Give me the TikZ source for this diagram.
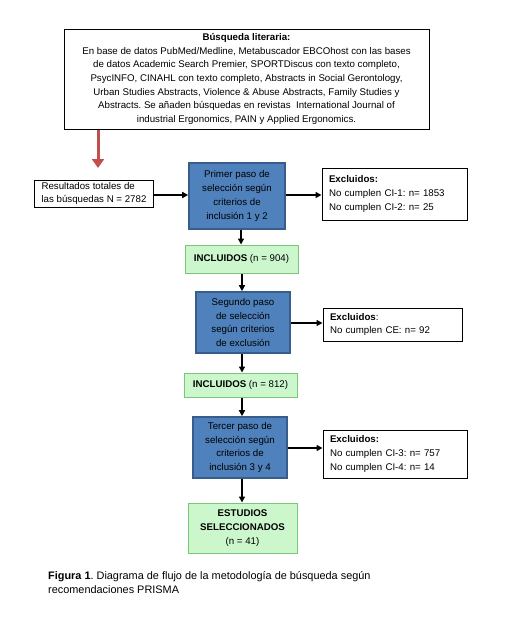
\documentclass[tikz,border=0pt]{standalone}
\usepackage{fontspec}
\setmainfont{Liberation Sans}
\frenchspacing
\usetikzlibrary{arrows.meta,positioning}
\definecolor{stepblue}{HTML}{4F81BD}
\definecolor{stepborder}{HTML}{385D8A}
\definecolor{inclfill}{HTML}{CCF7CC}
\definecolor{inclborder}{HTML}{79C879}
\definecolor{redarrow}{HTML}{C0504D}
\begin{document}
\begin{tikzpicture}[x=1pt,y=-1pt,
  every node/.style={font=\fontsize{9.7}{13.7}\selectfont, inner sep=2pt},
  plainbox/.style={draw=black, line width=1pt, fill=white},
  stepbox/.style={draw=stepborder, line width=1.6pt, fill=stepblue, align=center, text=black},
  inclbox/.style={draw=inclborder, line width=1pt, fill=inclfill, align=center},
  exbox/.style={plainbox, align=left, text width=#1, inner xsep=7pt},
  conn/.style={line width=1.4pt, -{Triangle[length=6pt,width=6pt]}},
]
\useasboundingbox (0,0) rectangle (524,619);
\fill[white] (0,0) rectangle (524,619);

\node[plainbox, minimum width=365pt, minimum height=100pt, align=center] (lit) at (246.5,79)
 {\textbf{Búsqueda literaria:}\\
 En base de datos PubMed/Medline, Metabuscador EBCOhost con las bases\\
 de datos Academic Search Premier, SPORTDiscus con texto completo,\\
 PsycINFO, CINAHL con texto completo, Abstracts in Social Gerontology,\\
 Urban Studies Abstracts, Violence \& Abuse Abstracts, Family Studies y\\
 Abstracts. Se añaden búsquedas en revistas\ \ International Journal of\\
 industrial Ergonomics, PAIN y Applied Ergonomics.};

\coordinate (redtop) at (98,129.5);
\coordinate (redtip) at (98,168);
\draw[redarrow, line width=3pt, -{Triangle[length=9pt,width=12pt]}] (redtop) -- (redtip);

\node[plainbox, minimum width=118pt, minimum height=27pt, align=left, inner xsep=7pt] (res) at (94,193.5)
 {Resultados totales de\\las búsquedas N = 2782};

\node[stepbox, minimum width=96pt, minimum height=66pt] (p1) at (237,196)
 {Primer paso de\\selección según\\criterios de\\inclusión 1 y 2};

\node[exbox=131pt, minimum height=52pt] (ex1) at (394.5,194)
 {\textbf{Excluidos:}\\No cumplen CI-1: n= 1853\\No cumplen CI-2: n= 25};

\node[inclbox, minimum width=113pt, minimum height=28pt] (in1) at (241.5,259)
 {\textbf{INCLUIDOS} (n = 904)};

\node[stepbox, minimum width=94pt, minimum height=61pt] (p2) at (243,322.5)
 {Segundo paso\\de selección\\según criterios\\de exclusión};

\node[exbox=125pt, minimum height=33pt] (ex2) at (392.5,324.5)
 {\textbf{Excluidos}:\\No cumplen CE: n= 92};

\node[inclbox, minimum width=113pt, minimum height=24pt] (in2) at (240.5,385)
 {\textbf{INCLUIDOS} (n = 812)};

\node[stepbox, minimum width=94pt, minimum height=61pt] (p3) at (240,447.5)
 {Tercer paso de\\selección según\\criterios de\\inclusión 3 y 4};

\node[exbox=130pt, minimum height=48pt] (ex3) at (395,454)
 {\textbf{Excluidos:}\\No cumplen CI-3: n= 757\\No cumplen CI-4: n= 14};

\node[inclbox, minimum width=109pt, minimum height=50pt] (sel) at (242.5,528)
 {\textbf{ESTUDIOS}\\\textbf{SELECCIONADOS}\\(n = 41)};

\draw[conn] (res.east |- 0,195) -- (p1.west |- 0,195);
\draw[conn] (p1.east |- 0,195) -- (ex1.west |- 0,195);
\draw[conn] (p1.south -| 241,0) -- (in1.north -| 241,0);
\draw[conn] (in1.south -| 242,0) -- (p2.north -| 242,0);
\draw[conn] (p2.east |- 0,323) -- (ex2.west |- 0,323);
\draw[conn] (p2.south -| 242,0) -- (in2.north -| 242,0);
\draw[conn] (in2.south -| 242,0) -- (p3.north -| 242,0);
\draw[conn] (p3.east |- 0,448) -- (ex3.west |- 0,448);
\draw[conn] (p3.south -| 242,0) -- (sel.north -| 242,0);

\node[anchor=north west, align=left, inner sep=0pt, font=\fontsize{10.9}{14}\selectfont] (cap) at (48,571)
 {\textbf{Figura 1}. Diagrama de flujo de la metodología de búsqueda según\\recomendaciones PRISMA};
\end{tikzpicture}
\end{document}
